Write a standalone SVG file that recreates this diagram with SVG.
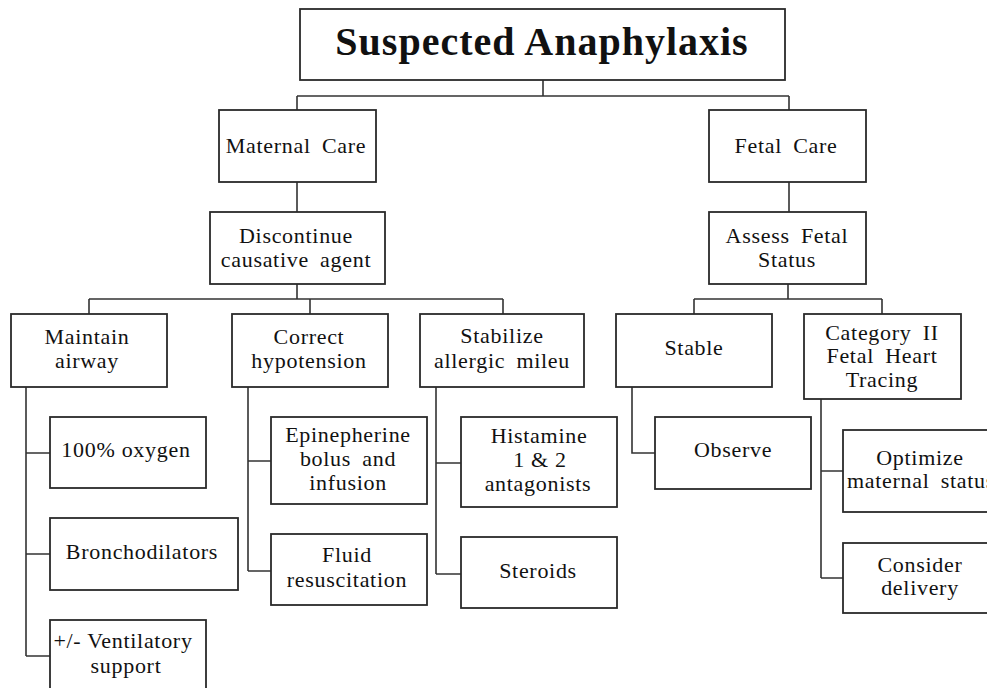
<svg xmlns="http://www.w3.org/2000/svg" width="987" height="688" viewBox="0 0 987 688">
<style>
rect{fill:#fff;stroke:#2a2a2a;stroke-width:1.8}
.c path{fill:none;stroke:#333;stroke-width:1.6}
text{font-family:"Liberation Serif","Times New Roman",serif;font-size:22px;fill:#111;text-anchor:middle;letter-spacing:0.7px}
.w{word-spacing:5px}
.t{font-size:40px;font-weight:bold;letter-spacing:1px}
</style>
<rect x="0" y="0" width="987" height="688" style="fill:#fff;stroke:none"/>
<g class="c">
<path d="M543 80V96M297 96H789M297 96V110M789 96V110"/>
<path d="M297 182V212M789 182V212"/>
<path d="M297 284V299M89 299H503M89 299V314M310 299V314M503 299V314"/>
<path d="M788 284V299M694 299H882M694 299V314M882 299V314"/>
<path d="M26 387V656M26 453H50M26 554H50M26 656H50"/>
<path d="M248 387V571M248 461H271M248 571H271"/>
<path d="M436 387V574M436 463H461M436 574H461"/>
<path d="M632 387V453H655"/>
<path d="M821 399V578M821 471H843M821 578H843"/>
</g>
<g id="title"><rect x="300" y="9" width="485" height="71"/><text class="t" x="542" y="55">Suspected Anaphylaxis</text></g>
<g id="maternal"><rect x="219" y="110" width="157" height="72"/><text class="w" x="296" y="153">Maternal Care</text></g>
<g id="fetal"><rect x="709" y="110" width="157" height="72"/><text class="w" x="786" y="153">Fetal Care</text></g>
<g id="discontinue"><rect x="210" y="212" width="175" height="72"/><text x="296" y="243">Discontinue</text><text class="w" x="296" y="267">causative agent</text></g>
<g id="assess"><rect x="709" y="212" width="157" height="72"/><text class="w" x="787" y="243">Assess Fetal</text><text x="787" y="267">Status</text></g>
<g id="airway"><rect x="11" y="314" width="156" height="73"/><text x="87" y="344">Maintain</text><text x="87" y="368">airway</text></g>
<g id="hypotension"><rect x="232" y="314" width="156" height="73"/><text x="309" y="344">Correct</text><text x="309" y="368">hypotension</text></g>
<g id="allergic"><rect x="420" y="314" width="164" height="73"/><text x="502" y="343">Stabilize</text><text class="w" x="502" y="368">allergic mileu</text></g>
<g id="stable"><rect x="616" y="314" width="156" height="73"/><text x="694" y="355">Stable</text></g>
<g id="category"><rect x="804" y="314" width="157" height="85"/><text class="w" x="882" y="340">Category II</text><text class="w" x="882" y="363">Fetal Heart</text><text x="882" y="387">Tracing</text></g>
<g id="oxygen"><rect x="50" y="417" width="156" height="71"/><text x="126" y="457">100% oxygen</text></g>
<g id="broncho"><rect x="50" y="518" width="188" height="72"/><text x="142" y="559">Bronchodilators</text></g>
<g id="ventilatory"><rect x="50" y="620" width="156" height="80"/><text x="123" y="648">+/- Ventilatory</text><text x="126" y="673">support</text></g>
<g id="epinephrine"><rect x="271" y="417" width="156" height="87"/><text x="348" y="442">Epinepherine</text><text class="w" x="348" y="466">bolus and</text><text x="348" y="490">infusion</text></g>
<g id="fluid"><rect x="271" y="534" width="156" height="71"/><text x="347" y="562">Fluid</text><text x="347" y="587">resuscitation</text></g>
<g id="histamine"><rect x="461" y="417" width="156" height="90"/><text x="539" y="443">Histamine</text><text x="540" y="467">1 &amp; 2</text><text x="538" y="491">antagonists</text></g>
<g id="steroids"><rect x="461" y="537" width="156" height="71"/><text x="538" y="578">Steroids</text></g>
<g id="observe"><rect x="655" y="417" width="156" height="72"/><text x="733" y="457">Observe</text></g>
<g id="optimize"><rect x="843" y="430" width="156" height="82"/><text x="920" y="465">Optimize</text><text class="w" x="921" y="488">maternal status</text></g>
<g id="delivery"><rect x="843" y="543" width="156" height="70"/><text x="920" y="572">Consider</text><text x="920" y="595">delivery</text></g>
</svg>
